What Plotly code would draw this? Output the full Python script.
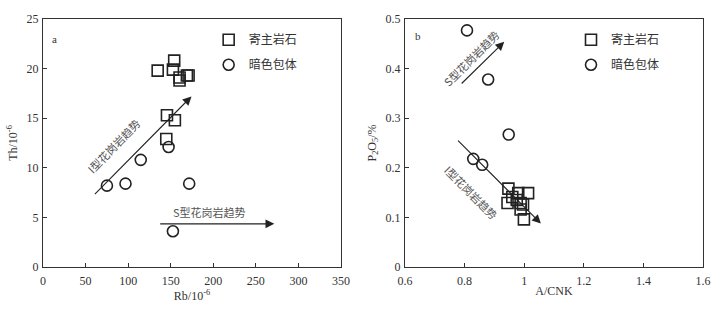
import plotly.graph_objects as go
from plotly.subplots import make_subplots

# Panel a: Th vs Rb
host_rb = [134.7, 154.1, 152.6, 160.4, 160.4, 169.0, 171.0, 145.6, 154.9, 144.8]
host_th = [19.8, 20.8, 19.9, 19.1, 18.8, 19.3, 19.3, 15.3, 14.8, 12.9]
encl_rb = [75.1, 96.9, 114.8, 147.5, 171.7, 152.6]
encl_th = [8.2, 8.4, 10.8, 12.1, 8.4, 3.6]

# Panel b: P2O5 vs A/CNK
host_acnk = [0.947, 0.944, 0.960, 0.980, 1.013, 0.988, 0.996, 0.988, 0.999, 0.975]
host_p2o5 = [0.158, 0.129, 0.141, 0.149, 0.149, 0.129, 0.126, 0.116, 0.096, 0.135]
encl_acnk = [0.808, 0.879, 0.948, 0.829, 0.859]
encl_p2o5 = [0.477, 0.378, 0.267, 0.218, 0.206]

a_xticks = [0, 50, 100, 150, 200, 250, 300, 350]
a_yticks = [0, 5, 10, 15, 20, 25]
b_xticks = [0.6, 0.8, 1.0, 1.2, 1.4, 1.6]
b_xticklabels = ["0.6", "0.8", "1", "1.2", "1.4", "1.6"]
b_yticks = [0, 0.1, 0.2, 0.3, 0.4, 0.5]
b_yticklabels = ["0", "0.1", "0.2", "0.3", "0.4", "0.5"]

names = ["寄主岩石", "暗色包体"]

FONT = "Liberation Serif, Times New Roman, Noto Sans CJK SC, serif"
CJK = "Noto Sans CJK SC, Liberation Serif, serif"
INK = "#222222"
TXT = "#333333"

fig = make_subplots(rows=1, cols=2, horizontal_spacing=0.097)
fig.update_layout(width=724, height=309)

sq = dict(symbol="square-open", size=11, color=INK, line=dict(width=1.6, color=INK))
ci = dict(symbol="circle-open", size=11, color=INK, line=dict(width=1.6, color=INK))

fig.add_trace(go.Scatter(x=host_rb, y=host_th, mode="markers", marker=sq, name=names[0],
                         legend="legend", legendgroup="a1"), row=1, col=1)
fig.add_trace(go.Scatter(x=encl_rb, y=encl_th, mode="markers", marker=ci, name=names[1],
                         legend="legend", legendgroup="a2"), row=1, col=1)
fig.add_trace(go.Scatter(x=host_acnk, y=host_p2o5, mode="markers", marker=sq, name=names[0],
                         legend="legend2", legendgroup="b1"), row=1, col=2)
fig.add_trace(go.Scatter(x=encl_acnk, y=encl_p2o5, mode="markers", marker=ci, name=names[1],
                         legend="legend2", legendgroup="b2"), row=1, col=2)

axis_common = dict(showline=True, linecolor="#333333", linewidth=1.3, mirror=True,
                   ticks="inside", ticklen=4, tickcolor="#333333", showgrid=False,
                   zeroline=False, tickfont=dict(family=FONT, size=12, color=TXT))

fig.update_xaxes(**axis_common, ticklabelstandoff=2)
fig.update_yaxes(**axis_common, ticklabelstandoff=1)

fig.update_xaxes(range=[0, 350], tickvals=a_xticks, row=1, col=1,
                 title=dict(text="Rb/10<sup>-6</sup>", font=dict(family=FONT, size=12, color=TXT), standoff=0))
fig.update_yaxes(range=[0, 25], tickvals=a_yticks, row=1, col=1,
                 title=dict(text="Th/10<sup>-6</sup>", font=dict(family=FONT, size=12, color=TXT), standoff=6))
fig.update_xaxes(range=[0.6, 1.6], tickvals=b_xticks, ticktext=b_xticklabels, row=1, col=2,
                 title=dict(text="A/CNK", font=dict(family=FONT, size=12, color=TXT), standoff=0))
fig.update_yaxes(range=[0, 0.5], tickvals=b_yticks, ticktext=b_yticklabels, row=1, col=2,
                 title=dict(text="P<sub>2</sub>O<sub>5</sub>/%", font=dict(family=FONT, size=12, color=TXT), standoff=6))

leg = dict(font=dict(family=CJK, size=12, color=TXT), bgcolor="rgba(0,0,0,0)",
           traceorder="grouped", tracegroupgap=6, xanchor="left", yanchor="top",
           itemsizing="trace")
fig.update_layout(
    legend=dict(x=0.251, y=0.975, **leg),
    legend2=dict(x=0.800, y=0.975, **leg),
    margin=dict(l=43, r=20, t=14, b=42),
    plot_bgcolor="white", paper_bgcolor="white",
)

arrow = dict(showarrow=True, arrowhead=2, arrowsize=1.6, arrowwidth=1.1, arrowcolor=INK, text="")
# Panel a arrows
fig.add_annotation(x=174.4, y=17.2, ax=59.2, ay=7.2, xref="x", yref="y", axref="x", ayref="y", **arrow)
fig.add_annotation(x=271.7, y=4.35, ax=135.9, ay=4.35, xref="x", yref="y", axref="x", ayref="y", **arrow)
# Panel b arrows
fig.add_annotation(x=0.933, y=0.454, ax=0.785, ay=0.367, xref="x2", yref="y2", axref="x2", ayref="y2", **arrow)
fig.add_annotation(x=1.056, y=0.0875, ax=0.773, ay=0.258, xref="x2", yref="y2", axref="x2", ayref="y2", **arrow)

lab = dict(showarrow=False, font=dict(family=CJK, size=11, color="#555555"))
fig.add_annotation(x=82.6, y=12.2, xref="x", yref="y", text="I型花岗岩趋势", textangle=-46, **lab)
fig.add_annotation(x=195.4, y=5.55, xref="x", yref="y", text="S型花岗岩趋势", **lab)
fig.add_annotation(x=0.822, y=0.421, xref="x2", yref="y2", text="S型花岗岩趋势", textangle=-45, **lab)
fig.add_annotation(x=0.822, y=0.152, xref="x2", yref="y2", text="I型花岗岩趋势", textangle=45, **lab)

fig.add_annotation(x=13.6, y=23.0, xref="x", yref="y", text="a", showarrow=False,
                   font=dict(family=FONT, size=11, color=TXT))
fig.add_annotation(x=0.644, y=0.465, xref="x2", yref="y2", text="b", showarrow=False,
                   font=dict(family=FONT, size=11, color=TXT))

fig.write_html("out.html")
